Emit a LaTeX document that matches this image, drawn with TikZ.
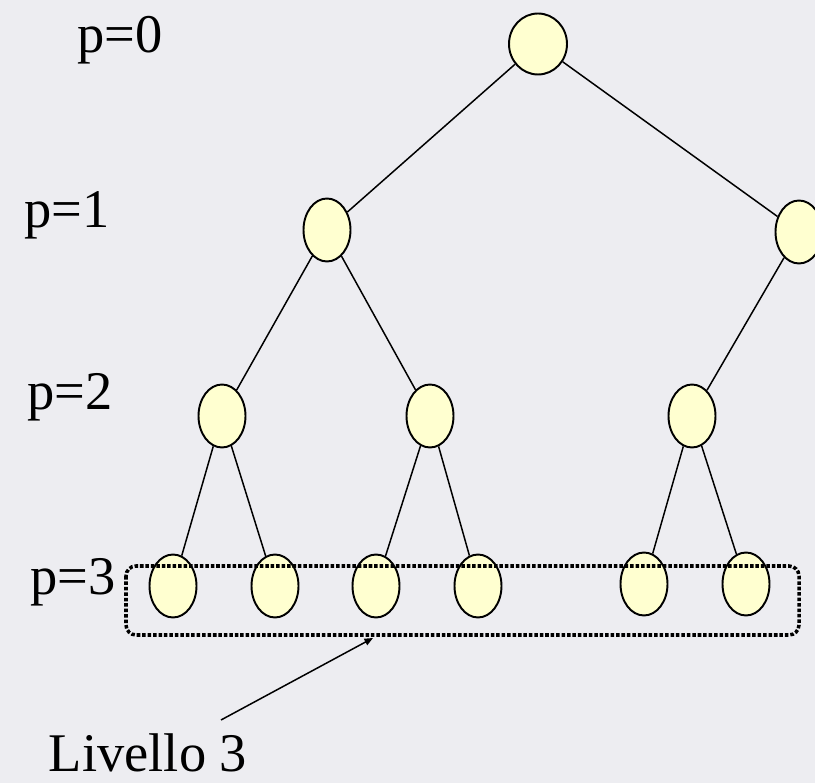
\documentclass[tikz,border=0pt]{standalone}
\usepackage{fontspec}
\setmainfont{Liberation Serif}
\usepackage{tikz}
\usetikzlibrary{shapes.geometric,arrows.meta,positioning}

\definecolor{bgcol}{RGB}{237,237,241}
\definecolor{nodecol}{RGB}{255,255,208}

\tikzset{
    treenode/.style={ellipse, draw=black, line width=1.1pt, fill=nodecol,
        minimum width=0.94cm, minimum height=1.26cm, inner sep=0pt},
    rootnode/.style={treenode, minimum width=1.16cm, minimum height=1.22cm},
    edge/.style={draw=black, line width=0.85pt},
    lbl/.style={font=\fontsize{31}{37}\selectfont, anchor=base, inner sep=0pt}
}

\begin{document}
\begin{tikzpicture}[x=0.02cm, y=-0.02cm]
    \useasboundingbox (0,0) rectangle (815,783);
    \clip (0,0) rectangle (815,783);
    \fill[bgcol] (0,0) rectangle (815,783);

    % Depth labels
    \node[lbl] (p0) at (120,53) {p=0};
    \node[lbl] (p1) at (67,228) {p=1};
    \node[lbl] (p2) at (70,410) {p=2};
    \node[lbl] (p3) at (73,595) {p=3};

    % Tree nodes
    \node[rootnode] (r) at (538,44) {};
    \node[treenode] (a) at (327,230) {};
    \node[treenode] (b) at (799,232) {};
    \node[treenode] (aa) at (222,416) {};
    \node[treenode] (ab) at (430,416) {};
    \node[treenode] (ba) at (692,416) {};
    \node[treenode] (aaa) at (173,586) {};
    \node[treenode] (aab) at (275,586) {};
    \node[treenode] (aba) at (376,586) {};
    \node[treenode] (abb) at (478,586) {};
    \node[treenode] (baa) at (644,584) {};
    \node[treenode] (bab) at (746,584) {};

    % Edges
    \draw[edge] (r) -- (a);
    \draw[edge] (r) -- (b);
    \draw[edge] (a) -- (aa);
    \draw[edge] (a) -- (ab);
    \draw[edge] (b) -- (ba);
    \draw[edge] (aa) -- (aaa);
    \draw[edge] (aa) -- (aab);
    \draw[edge] (ab) -- (aba);
    \draw[edge] (ab) -- (abb);
    \draw[edge] (ba) -- (baa);
    \draw[edge] (ba) -- (bab);

    % Level 3 box and pointer
    \draw[line width=2pt, dash pattern=on 2pt off 1.1pt, rounded corners=0.2cm]
        (126,566) rectangle (799,635);
    \node[lbl] (lvl) at (148,771) {Livello 3};
    \coordinate (from) at (221,720);
    \coordinate (to) at (373,638);
    \draw[line width=0.85pt, -{Triangle[length=0.17cm, width=0.14cm]}] (from) -- (to);
\end{tikzpicture}
\end{document}
